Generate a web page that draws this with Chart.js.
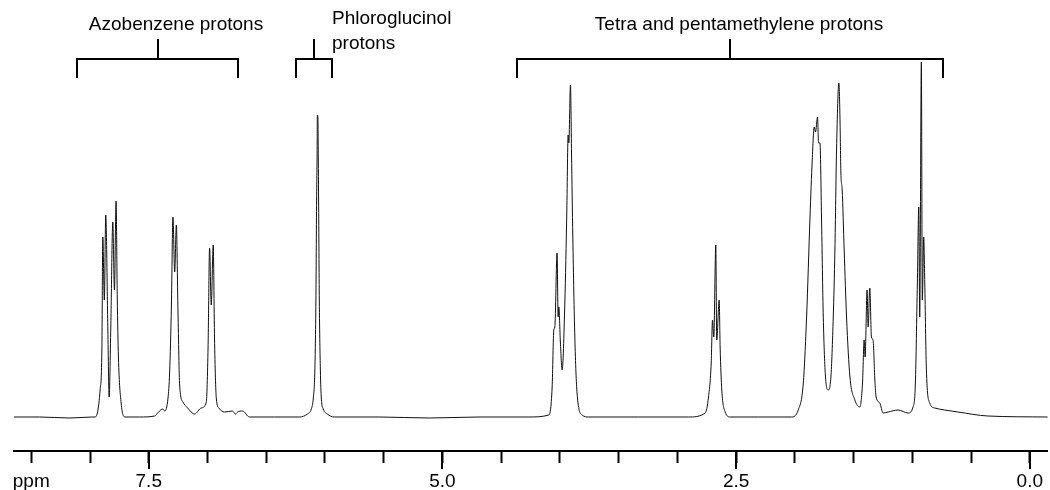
<!DOCTYPE html>
<html>
<head>
<meta charset="utf-8">
<script src="https://cdn.jsdelivr.net/npm/chart.js@4.4.1/dist/chart.umd.min.js"></script>
<style>
  html, body { margin: 0; padding: 0; background: #fff; }
</style>
</head>
<body>
<canvas id="nmr" width="1050" height="490"></canvas>
<script>
// chemical shift (ppm) and signal intensity
const shifts = [
  8.647, 8.43, 8.17, 7.984, 7.956, 7.914, 7.899, 7.891, 7.878, 7.866, 7.848, 7.837, 7.823, 7.806, 7.792, 7.778,
  7.768, 7.758, 7.735, 7.702, 7.577, 7.449, 7.424, 7.398, 7.381, 7.364, 7.336, 7.322, 7.307, 7.294, 7.279, 7.265,
  7.251, 7.237, 7.209, 7.169, 7.110, 7.053, 7.010, 6.995, 6.982, 6.968, 6.951, 6.940, 6.925, 6.903, 6.855, 6.787,
  6.761, 6.744, 6.702, 6.642, 6.430, 6.218, 6.150, 6.116, 6.099, 6.086, 6.077, 6.071, 6.066, 6.065, 6.060, 6.058,
  6.054, 6.048, 6.039, 6.031, 6.014, 5.980, 5.920, 5.538, 5.113, 4.689, 4.264, 4.094, 4.066, 4.052, 4.043, 4.024,
  4.015, 4.009, 3.996, 3.981, 3.958, 3.941, 3.930, 3.924, 3.910, 3.901, 3.890, 3.873, 3.854, 3.811, 3.754, 3.330,
  2.905, 2.763, 2.735, 2.712, 2.701, 2.690, 2.673, 2.665, 2.644, 2.636, 2.622, 2.593, 2.551, 2.310, 2.030, 1.971,
  1.928, 1.900, 1.871, 1.852, 1.835, 1.824, 1.807, 1.798, 1.786, 1.773, 1.758, 1.739, 1.716, 1.693, 1.673, 1.659,
  1.645, 1.625, 1.616, 1.608, 1.597, 1.580, 1.560, 1.531, 1.489, 1.447, 1.424, 1.410, 1.402, 1.385, 1.376, 1.362,
  1.348, 1.334, 1.319, 1.308, 1.277, 1.249, 1.206, 1.121, 1.036, 0.994, 0.974, 0.957, 0.945, 0.937, 0.923, 0.915,
  0.903, 0.894, 0.881, 0.852, 0.809, 0.725, 0.612, 0.357, -0.153
];
const intensity = [
  0, 0, -1, 0, 0, 27, 67, 180, 117, 202, 87, 20, 90, 195, 127, 216,
  120, 60, 14, 0, 0, 1, 4, 7, 8, 6, 19, 45, 112, 200, 145, 192,
  105, 32, 15, 9, 3, 9, 15, 70, 169, 112, 172, 79, 19, 9, 5, 6,
  3, 5, 6, 0, 0, 0, 3, 8, 19, 47, 117, 217, 277, 302, 299, 277,
  217, 117, 47, 19, 8, 3, 0, 0, -1, 0, 0, 2, 30, 87, 90, 164,
  100, 110, 75, 47, 114, 207, 282, 274, 332, 264, 180, 80, 24, 2, 0, 0,
  0, 4, 20, 54, 97, 80, 172, 77, 117, 70, 27, 5, 0, 0, 0, 7,
  34, 100, 200, 257, 290, 285, 300, 274, 274, 200, 100, 40, 27, 40, 100, 167,
  267, 334, 300, 244, 227, 167, 100, 40, 17, 10, 34, 77, 60, 127, 90, 129,
  80, 77, 37, 20, 14, 4, 5, 7, 4, 10, 34, 134, 210, 100, 355, 117,
  180, 134, 50, 14, 9, 7, 5, 1, 0
];

// assignment groups (ppm ranges)
const groupNames = [['Azobenzene protons'], ['Phloroglucinol', 'protons'], ['Tetra and pentamethylene protons']];
const groupFrom = [8.112, 6.243, 4.366];
const groupTo = [6.744, 5.937, 0.739];

const axisMin = -0.153;
const axisMax = 8.647;
const FONT = '19px "Liberation Sans", Arial, Helvetica, sans-serif';

const points = shifts.map((p, i) => ({ x: p, y: intensity[i] }));

// bracket + label drawing for the assignment groups
const bracketPlugin = {
  id: 'brackets',
  afterDraw(chart) {
    const ctx = chart.ctx;
    const xs = chart.scales.x;
    // label placement per group: [align, offset in px from bracket centre or edge]
    const spots = [['center', 18], ['left', 0], ['center', 9]];
    ctx.save();
    ctx.strokeStyle = '#000';
    ctx.lineWidth = 2;
    ctx.fillStyle = '#000';
    ctx.font = FONT;
    ctx.textBaseline = 'middle';
    groupNames.forEach((lines, i) => {
      const x1 = Math.round(xs.getPixelForValue(groupFrom[i]));
      const x2 = Math.round(xs.getPixelForValue(groupTo[i]));
      const xm = Math.round((x1 + x2) / 2);
      ctx.beginPath();
      ctx.moveTo(x1, 78);
      ctx.lineTo(x1, 59);
      ctx.lineTo(x2, 59);
      ctx.lineTo(x2, 78);
      ctx.moveTo(xm, 59);
      ctx.lineTo(xm, 39);
      ctx.stroke();
      const [align, off] = spots[i];
      ctx.textAlign = align;
      if (lines.length === 1) {
        ctx.fillText(lines[0], xm + off, 25);
      } else {
        ctx.fillText(lines[0], x2 + off, 19);
        ctx.fillText(lines[1], x2 + off, 44);
      }
    });
    // longer marks at the labelled shifts
    ctx.beginPath();
    xs.ticks.forEach(t => {
      if (Math.abs(t.value / 2.5 - Math.round(t.value / 2.5)) < 1e-6) {
        const px = Math.round(xs.getPixelForValue(t.value));
        ctx.moveTo(px, xs.top);
        ctx.lineTo(px, xs.top + 18);
      }
    });
    ctx.stroke();
    ctx.restore();
  }
};

new Chart(document.getElementById('nmr'), {
  type: 'line',
  data: {
    datasets: [{
      data: points,
      borderColor: '#111',
      borderWidth: 1,
      pointRadius: 0,
      fill: false,
      cubicInterpolationMode: 'monotone'
    }]
  },
  options: {
    responsive: false,
    animation: false,
    layout: { padding: { left: 14, right: 0, top: 0, bottom: 0 } },
    plugins: { legend: { display: false }, tooltip: { enabled: false } },
    scales: {
      x: {
        type: 'linear',
        reverse: true,
        min: axisMin,
        max: axisMax,
        afterBuildTicks(scale) {
          scale.ticks = scale.ticks.filter(t => Math.abs(t.value / 0.5 - Math.round(t.value / 0.5)) < 1e-6);
        },
        afterFit(scale) { scale.height = 39; },
        border: { display: true, color: '#000', width: 2 },
        grid: { drawOnChartArea: false, drawTicks: true, tickLength: 12, tickWidth: 2, tickColor: '#000' },
        ticks: {
          stepSize: 0.5,
          includeBounds: false,
          autoSkip: false,
          maxRotation: 0,
          padding: 7,
          color: '#000',
          font: { family: '"Liberation Sans", Arial, Helvetica, sans-serif', size: 19 },
          callback(v) {
            if (Math.abs(v - 8.5) < 1e-6) return 'ppm';
            if (Math.abs(v / 2.5 - Math.round(v / 2.5)) < 1e-6) return Number(v).toFixed(1);
            return '';
          }
        }
      },
      y: { display: false, min: -34, max: 417 }
    }
  },
  plugins: [bracketPlugin]
});
</script>
</body>
</html>
